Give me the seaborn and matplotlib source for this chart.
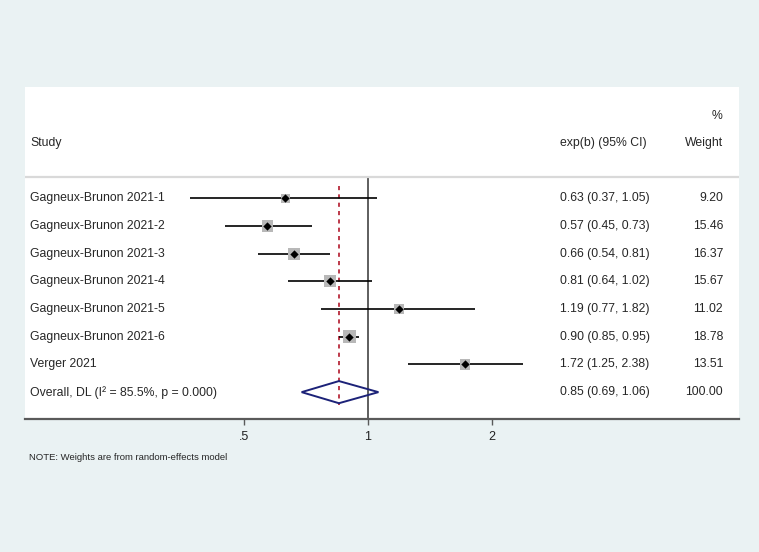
import numpy as np
import pandas as pd
import matplotlib
matplotlib.use("Agg")
import matplotlib.pyplot as plt
import matplotlib.transforms as mtransforms
from matplotlib.ticker import FixedLocator, FixedFormatter, NullLocator
import seaborn as sns

# ---------------------------------------------------------
# datos del forest plot
# ---------------------------------------------------------
estudios = ["Gagneux-Brunon 2021-1", "Gagneux-Brunon 2021-2", "Gagneux-Brunon 2021-3",
            "Gagneux-Brunon 2021-4", "Gagneux-Brunon 2021-5", "Gagneux-Brunon 2021-6",
            "Verger 2021"]
efecto = [0.63, 0.57, 0.66, 0.81, 1.19, 0.90, 1.72]
ic_inf = [0.37, 0.45, 0.54, 0.64, 0.77, 0.85, 1.25]
ic_sup = [1.05, 0.73, 0.81, 1.02, 1.82, 0.95, 2.38]
pesos = [9.20, 15.46, 16.37, 15.67, 11.02, 18.78, 13.51]

global_label = "Overall, DL (I² = 85.5%, p = 0.000)"
global_efecto = 0.85
global_inf = 0.69
global_sup = 1.06
global_peso = 100.00

ticks = [0.5, 1, 2]
tick_labels = [".5", "1", "2"]

df = pd.DataFrame({"estudio": estudios, "efecto": efecto, "inf": ic_inf,
                   "sup": ic_sup, "peso": pesos})
df["fila"] = np.arange(1, len(df) + 1)
fila_global = len(df) + 1

# ---------------------------------------------------------
# figura
# ---------------------------------------------------------
sns.set_style("white")
plt.rcParams["font.family"] = ["Liberation Sans", "DejaVu Sans"]

fondo = "#eaf2f3"
fig = plt.figure(figsize=(7.59, 5.52), dpi=100, facecolor=fondo)
ax = fig.add_axes([25 / 759, 1 - 419 / 552, 714 / 759, 332 / 552])
ax.set_facecolor("white")

ax.set_xscale("log")
ax.set_xlim(2 ** ((25 - 368) / 124), 2 ** ((739 - 368) / 124))
ax.set_ylim(8.97, -3.02)

# intervalos de confianza
ax.hlines(df["fila"], df["inf"], df["sup"], color="black", lw=1.2, zorder=2)

# cuadrados grises (area proporcional al peso)
k = 4.6
sns.scatterplot(data=df, x="efecto", y="fila", size="peso",
                sizes=(k * min(pesos), k * max(pesos)), marker="s",
                color="#b8b8b8", linewidth=0, legend=False, ax=ax, zorder=3)
sns.scatterplot(data=df, x="efecto", y="fila", marker="D", s=18,
                color="black", linewidth=0, legend=False, ax=ax, zorder=4)

# linea de no efecto y linea del efecto global
ax.vlines(1, 0.23, 8.97, color="#333333", lw=1.1, zorder=1)
ax.vlines(global_efecto, 0.55, 8.45, color="#b2182b", lw=1.2,
          linestyles=(0, (2.5, 2.5)), zorder=1)

# rombo global
h = 0.4
ax.fill([global_inf, global_efecto, global_sup, global_efecto],
        [fila_global, fila_global - h, fila_global, fila_global + h],
        facecolor="none", edgecolor="#1c2278", lw=1.4, zorder=5)

# separador de encabezado
ax.axhline(0.23, color="#d9d9d9", lw=1.6, zorder=1)

# ---------------------------------------------------------
# textos
# ---------------------------------------------------------
trans = mtransforms.blended_transform_factory(ax.transAxes, ax.transData)
fs = 8.8
x_est = 5 / 714
x_ic = 535 / 714
x_peso = 698 / 714

ax.text(x_est, -1, "Study", transform=trans, ha="left", va="center", fontsize=fs)
ax.text(x_ic, -1, "exp(b) (95% CI)", transform=trans, ha="left", va="center", fontsize=fs)
ax.text(x_peso, -1, "Weight", transform=trans, ha="right", va="center", fontsize=fs)
ax.text(x_peso, -1.98, "%", transform=trans, ha="right", va="center", fontsize=fs)

for i, fila in df.iterrows():
    ax.text(x_est, fila["fila"], fila["estudio"], transform=trans,
            ha="left", va="center", fontsize=fs)
    ax.text(x_ic, fila["fila"],
            f"{fila['efecto']:.2f} ({fila['inf']:.2f}, {fila['sup']:.2f})",
            transform=trans, ha="left", va="center", fontsize=fs)
    ax.text(x_peso, fila["fila"], f"{fila['peso']:.2f}", transform=trans,
            ha="right", va="center", fontsize=fs)

ax.text(x_est, fila_global, global_label, transform=trans, ha="left",
        va="center", fontsize=fs)
ax.text(x_ic, fila_global,
        f"{global_efecto:.2f} ({global_inf:.2f}, {global_sup:.2f})",
        transform=trans, ha="left", va="center", fontsize=fs)
ax.text(x_peso, fila_global, f"{global_peso:.2f}", transform=trans,
        ha="right", va="center", fontsize=fs)

# ---------------------------------------------------------
# ejes
# ---------------------------------------------------------
for lado in ["top", "left", "right"]:
    ax.spines[lado].set_visible(False)
ax.spines["bottom"].set_color("#5a5a5a")
ax.spines["bottom"].set_linewidth(1.6)

ax.xaxis.set_major_locator(FixedLocator(ticks))
ax.xaxis.set_major_formatter(FixedFormatter(tick_labels))
ax.xaxis.set_minor_locator(NullLocator())
ax.tick_params(axis="x", bottom=True, direction="out", length=4.5, width=1.0,
               color="#5a5a5a", labelsize=9, pad=4, labelcolor="#222222")
ax.set_yticks([])
ax.set_xlabel("")
ax.set_ylabel("")

fig.text(29 / 759, 1 - 457 / 552, "NOTE: Weights are from random-effects model",
         ha="left", va="center", fontsize=6.8)

fig.savefig("out.png", dpi=100, facecolor=fondo)
